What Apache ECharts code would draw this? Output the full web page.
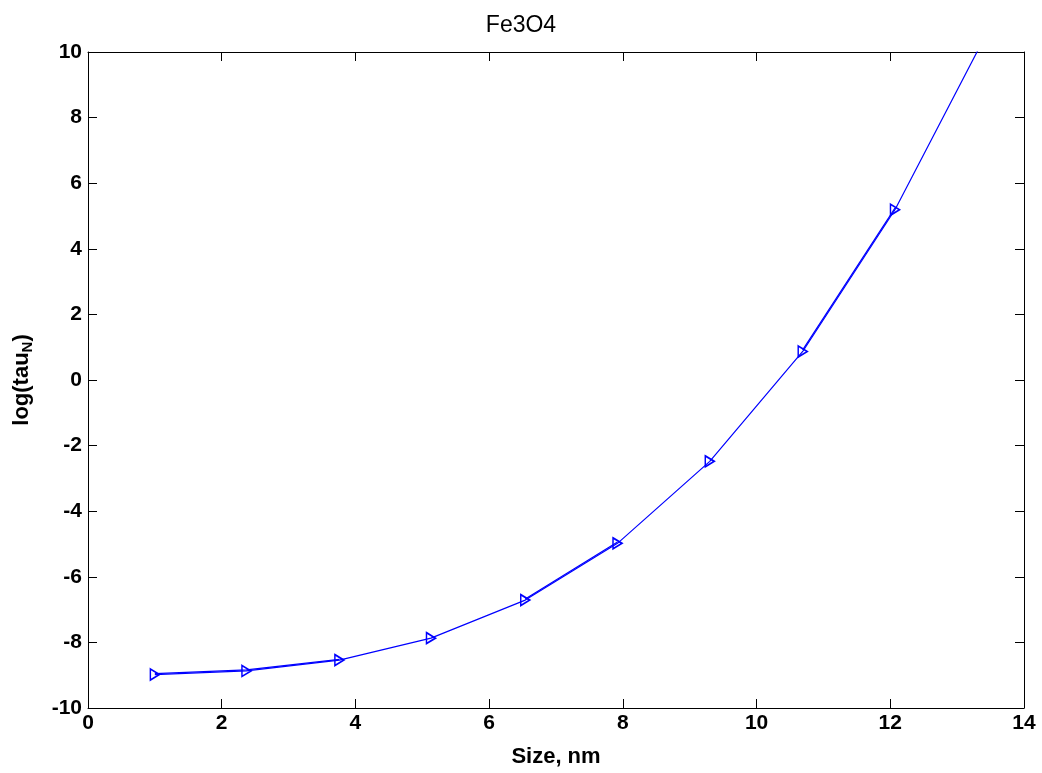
<!DOCTYPE html>
<html>
<head>
<meta charset="utf-8">
<script src="https://cdn.jsdelivr.net/npm/echarts@6/dist/echarts.min.js"></script>
<style>
  html, body { margin: 0; padding: 0; background: #fff; }
  #chart { width: 1042px; height: 773px; }
</style>
</head>
<body>
<div id="chart"></div>
<script>
// Particle size (nm) and Néel relaxation time log(tau_N)
const sizes = [1.0, 2.37, 3.76, 5.13, 6.54, 7.92, 9.30, 10.69, 12.07, 13.45];
const logTau = [-8.98, -8.87, -8.54, -7.87, -6.71, -4.98, -2.48, 0.87, 5.19, 10.6];
// second computed curve, drawn over a few segments
const sizes2 = [1.0, 2.37, 3.76, null, 6.54, 7.92, null, 10.69, 12.07];
const logTau2 = [-8.95, -8.84, -8.52, null, -6.68, -4.94, null, 0.92, 5.24];

const xTicks = [0, 2, 4, 6, 8, 10, 12, 14];
const yTicks = [-10, -8, -6, -4, -2, 0, 2, 4, 6, 8, 10];

const font = 'Liberation Sans, Arial, Helvetica, sans-serif';
const chart = echarts.init(document.getElementById('chart'));

const pairs = (xs, ys) => xs.map((x, i) => (x === null ? '-' : [x, ys[i]]));

const baseAxis = {
  splitLine: { show: false },
  axisLine: { show: true, onZero: false, lineStyle: { color: '#000', width: 1 } },
  axisTick: { show: true, inside: true, length: 9, lineStyle: { color: '#000' } },
};
const labelStyle = { fontFamily: font, fontSize: 21, fontWeight: 'bold', color: '#000' };

chart.setOption({
  animation: false,
  backgroundColor: '#fff',
  title: {
    text: 'Fe3O4',
    left: 'center',
    top: 9,
    textStyle: { fontFamily: font, fontSize: 23, fontWeight: 'normal', color: '#000' }
  },
  grid: { left: 88, right: 18, top: 52, bottom: 64 },
  xAxis: [
    Object.assign({}, baseAxis, {
      type: 'value', min: 0, max: 14, interval: 2, position: 'bottom',
      name: 'Size, nm', nameLocation: 'middle', nameGap: 38,
      nameTextStyle: { fontFamily: font, fontSize: 22, fontWeight: 'bold', color: '#000' },
      axisLabel: Object.assign({}, labelStyle, { margin: 5,
        formatter: v => (xTicks.includes(v) ? String(v) : '') })
    }),
    Object.assign({}, baseAxis, {
      type: 'value', min: 0, max: 14, interval: 2, position: 'top',
      axisLabel: { show: false }
    })
  ],
  yAxis: [
    Object.assign({}, baseAxis, {
      type: 'value', min: -10, max: 10, interval: 2, position: 'left',
      name: '{a|log(tau}{s|N}{a|)}', nameLocation: 'middle', nameGap: 53,
      nameTextStyle: {
        rich: {
          a: { fontFamily: font, fontSize: 22, fontWeight: 'bold', color: '#000' },
          s: { fontFamily: font, fontSize: 15, fontWeight: 'bold', color: '#000', verticalAlign: 'bottom', padding: [12, 0, 0, 0] }
        }
      },
      axisLabel: Object.assign({}, labelStyle, { margin: 6,
        formatter: v => (yTicks.includes(v) ? String(v) : '') })
    }),
    Object.assign({}, baseAxis, {
      type: 'value', min: -10, max: 10, interval: 2, position: 'right',
      axisLabel: { show: false }
    })
  ],
  series: [
    {
      type: 'line',
      data: pairs(sizes2, logTau2),
      connectNulls: false,
      showSymbol: false,
      clip: true,
      lineStyle: { color: '#0000ff', width: 1.2 },
      z: 2
    },
    {
      type: 'line',
      data: pairs(sizes, logTau),
      clip: true,
      symbol: 'path://M0,0 L10,5 L0,10 Z',
      symbolSize: [9, 11],
      itemStyle: { color: 'rgba(0,0,0,0)', borderColor: '#0000ff', borderWidth: 1.6 },
      lineStyle: { color: '#0000ff', width: 1.2 },
      z: 3
    }
  ]
});
</script>
</body>
</html>
